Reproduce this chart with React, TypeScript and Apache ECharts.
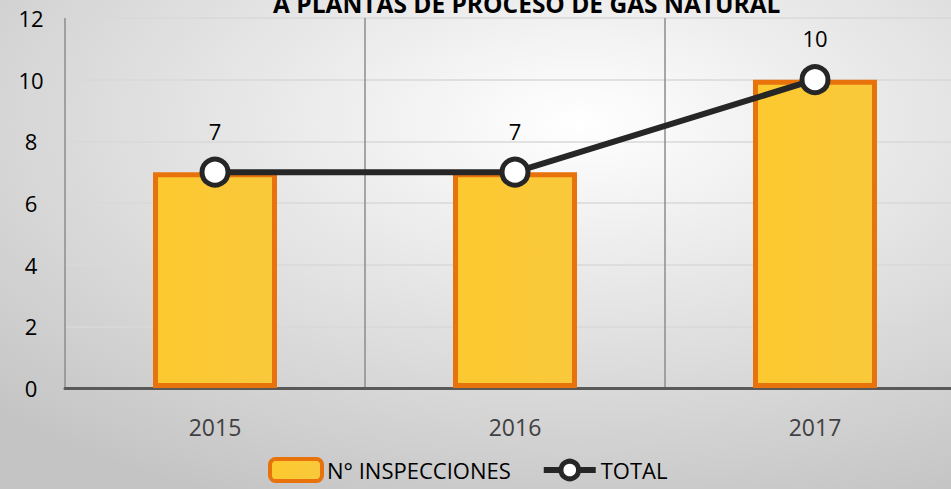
import React, { useEffect, useRef } from "react";
import * as echarts from "echarts";

const categories = ["2015", "2016", "2017"];
const inspecciones = [7, 7, 10];
const total = [7, 7, 10];
const titleText = "A PLANTAS DE PROCESO DE GAS NATURAL";

export default function App() {
  const ref = useRef<HTMLDivElement>(null);
  useEffect(() => {
    if (!ref.current) return;
    const chart = echarts.init(ref.current, null, { renderer: "svg" });
    chart.setOption({
      animation: false,
      backgroundColor: {
        type: "radial",
        x: 0.6,
        y: 0.25,
        r: 0.85,
        colorStops: [
          { offset: 0, color: "#ffffff" },
          { offset: 1, color: "#c4c4c4" },
        ],
      },
      textStyle: { fontFamily: "Open Sans" },
      graphic: [
        {
          type: "text",
          left: 273,
          top: -9,
          style: {
            text: titleText,
            fontFamily: "Open Sans",
            fontWeight: "bold",
            fontSize: 24.5,
            fill: "#000",
          },
        },
      ],
      grid: { left: 65, top: 18, right: 0, bottom: 101, containLabel: false },
      legend: {
        bottom: 1,
        left: 263,
        itemWidth: 52,
        itemHeight: 22,
        itemGap: 30,
        textStyle: { fontSize: 22, color: "#000", fontFamily: "Open Sans" },
        data: [
          { name: "N° INSPECCIONES", itemStyle: { borderWidth: 4 } },
          {
            name: "TOTAL",
            itemStyle: { color: "#ffffff", borderColor: "#262626", borderWidth: 5 },
            lineStyle: { color: "#262626", width: 6 },
          },
        ],
      },
      xAxis: {
        type: "category",
        data: categories,
        axisLine: { lineStyle: { color: "#595959", width: 3 } },
        axisTick: { show: false },
        axisLabel: { fontSize: 23, color: "#404040", margin: 27 },
        splitLine: { show: true, lineStyle: { color: "#8c8c8c", width: 1.5 } },
      },
      yAxis: {
        type: "value",
        min: 0,
        max: 12,
        interval: 2,
        axisLine: { show: false },
        axisTick: { show: false },
        axisLabel: { fontSize: 22, color: "#000", margin: 34, align: "center" },
        splitLine: { lineStyle: { color: "#d9d9d9", width: 1.5 } },
      },
      series: [
        {
          name: "N° INSPECCIONES",
          type: "bar",
          data: inspecciones,
          barWidth: 124,
          itemStyle: {
            color: {
              type: "linear",
              x: 0,
              y: 0,
              x2: 1,
              y2: 0,
              colorStops: [
                { offset: 0, color: "#fdc92f" },
                { offset: 1, color: "#f9c93c" },
              ],
            },
            borderColor: "#e8730c",
            borderWidth: 5,
          },
        },
        {
          name: "TOTAL",
          type: "line",
          data: total,
          symbol: "circle",
          symbolSize: 26,
          lineStyle: { color: "#262626", width: 6 },
          itemStyle: { color: "#ffffff", borderColor: "#262626", borderWidth: 5 },
          label: {
            show: true,
            position: "top",
            distance: 15,
            fontSize: 22,
            color: "#000",
            fontFamily: "Open Sans",
          },
        },
      ],
    });
    return () => chart.dispose();
  }, []);
  return (
    <div style={{ width: 951, height: 489, position: "absolute", left: 0, top: 0, overflow: "hidden" }}>
      <div ref={ref} style={{ width: 965, height: 489 }} />
    </div>
  );
}
